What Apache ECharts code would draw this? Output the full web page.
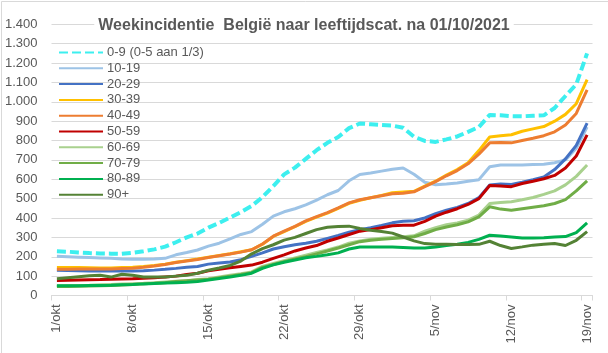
<!DOCTYPE html>
<html>
<head>
<meta charset="utf-8">
<script src="https://cdn.jsdelivr.net/npm/echarts@6/dist/echarts.min.js"></script>
<style>html,body{margin:0;padding:0;background:#fff}#c{width:608px;height:353px}</style>
</head>
<body>
<div id="c"></div>
<script>
const categories = ['1/okt','2/okt','3/okt','4/okt','5/okt','6/okt','7/okt','8/okt','9/okt','10/okt','11/okt','12/okt','13/okt','14/okt','15/okt','16/okt','17/okt','18/okt','19/okt','20/okt','21/okt','22/okt','23/okt','24/okt','25/okt','26/okt','27/okt','28/okt','29/okt','30/okt','31/okt','1/nov','2/nov','3/nov','4/nov','5/nov','6/nov','7/nov','8/nov','9/nov','10/nov','11/nov','12/nov','13/nov','14/nov','15/nov','16/nov','17/nov','18/nov','19/nov'];
const seriesNames = ['0-9 (0-5 aan 1/3)','10-19','20-29','30-39','40-49','50-59','60-69','70-79','80-89','90+'];
const colors = ['#3DEFEF','#9DC3E6','#4472C4','#FFC000','#ED7D31','#C00000','#A9D18E','#70AD47','#00B050','#548235'];
const v0_9   = [228,226,222,219,217,216,215,220,228,238,252,275,300,320,350,375,402,430,462,508,565,625,660,705,750,788,818,864,888,884,880,877,866,820,798,793,806,821,845,870,932,930,926,925,928,930,968,1030,1090,1250];
const v10_19 = [202,200,198,196,194,192,189,187,187,188,192,210,222,235,255,270,292,315,330,368,410,432,448,468,492,520,542,592,625,632,642,652,658,626,585,572,576,581,590,598,665,674,674,674,676,678,685,700,760,870];
const v20_29 = [130,129,128,127,127,126,126,126,128,131,135,140,146,150,162,168,173,185,202,220,240,252,262,270,280,295,310,327,340,350,362,375,383,386,400,422,440,455,475,505,570,575,573,585,598,612,650,705,775,890];
const v30_39 = [144,144,144,143,142,142,144,146,150,155,162,172,180,188,198,207,216,226,236,265,305,330,355,383,405,425,450,476,492,505,517,530,534,538,565,590,622,650,685,748,818,825,830,848,860,872,900,935,990,1114];
const v40_49 = [135,136,137,137,137,137,139,141,146,152,160,170,178,186,196,205,214,224,236,266,306,332,357,385,407,428,452,478,494,505,515,525,528,535,562,588,618,645,680,730,788,790,788,800,812,825,845,880,940,1062];
const v50_59 = [78,79,80,81,82,84,85,86,89,92,96,100,108,115,128,135,143,150,157,172,192,210,230,245,258,280,297,315,332,340,350,360,363,363,383,410,430,448,470,500,568,565,562,578,590,603,620,658,720,829];
const v60_69 = [50,51,52,53,55,57,59,61,63,66,70,74,76,82,86,95,104,112,122,150,166,180,194,208,222,235,250,270,282,290,295,300,303,308,332,350,365,375,389,415,475,480,484,494,506,522,540,571,615,674];
const v70_79 = [46,47,48,49,50,52,54,57,60,63,66,72,76,80,84,92,100,108,118,145,160,175,188,200,215,230,245,262,278,285,290,294,298,303,320,340,354,365,380,406,458,446,440,448,456,463,475,495,540,592];
const v80_89 = [50,50,50,51,52,53,55,57,60,62,64,66,68,72,80,88,95,104,115,140,158,172,183,195,202,210,220,240,250,251,251,250,248,245,245,250,258,265,274,290,311,307,302,297,297,298,302,304,325,375];
const v90p   = [87,92,97,102,104,95,110,105,96,95,95,100,104,115,130,142,155,178,215,242,262,286,300,320,340,352,356,358,346,337,330,322,302,282,268,265,264,263,263,264,280,258,243,251,260,264,268,258,285,330];
const values = [v0_9,v10_19,v20_29,v30_39,v40_49,v50_59,v60_69,v70_79,v80_89,v90p];
const yTicks = {min: 0, max: 1400, interval: 100};
const titleText = 'Weekincidentie  België naar leeftijdscat. na 01/10/2021';

const FONT = 'Liberation Sans';
const TXT = '#595959';
const chart = echarts.init(document.getElementById('c'), null, {renderer: 'canvas'});
const series = values.map((d, i) => ({
  name: seriesNames[i],
  type: 'line',
  data: d,
  symbol: 'none',
  showSymbol: false,
  smooth: false,
  color: colors[i],
  lineStyle: i === 0 ? {width: 4, type: [9, 4], color: colors[i]} : {width: 3, color: colors[i]},
  z: 2 + i
}));
chart.setOption({
  animation: false,
  backgroundColor: '#fff',
  graphic: [{type: 'rect', shape: {x: 1.5, y: 1.5, width: 640, height: 400}, style: {fill: 'none', stroke: '#d9d9d9', lineWidth: 1}, z: -1}],
  title: {
    text: titleText, left: 'center', top: 17, padding: [1, 4],
    backgroundColor: '#fff',
    textStyle: {fontFamily: FONT, fontSize: 16, fontWeight: 'bold', color: TXT}
  },
  legend: {
    orient: 'vertical', left: 53, top: 41, itemWidth: 44, itemHeight: 14, itemGap: 2.8,
    data: seriesNames,
    itemStyle: {opacity: 0},
    textStyle: {fontFamily: FONT, fontSize: 13, color: TXT, padding: [0,0,0,-1]}
  },
  grid: {left: 51.5, right: 15.5, top: 24.3, bottom: 57.5, containLabel: false},
  xAxis: {
    type: 'category', data: categories, boundaryGap: true,
    axisLine: {lineStyle: {color: '#d9d9d9', width: 1}},
    axisTick: {show: true, interval: 6, length: 5, lineStyle: {color: '#d9d9d9'}},
    axisLabel: {interval: 6, rotate: 90, margin: 9, fontFamily: FONT, fontSize: 13, color: TXT}
  },
  yAxis: {
    type: 'value', min: yTicks.min, max: yTicks.max, interval: yTicks.interval,
    axisLine: {show: false}, axisTick: {show: false},
    splitLine: {lineStyle: {color: '#d9d9d9', width: 1}},
    axisLabel: {margin: 14, fontFamily: FONT, fontSize: 13, color: TXT,
      formatter: v => String(v).replace(/\B(?=(\d{3})+(?!\d))/g, '.')}
  },
  series: series
});
</script>
</body>
</html>
